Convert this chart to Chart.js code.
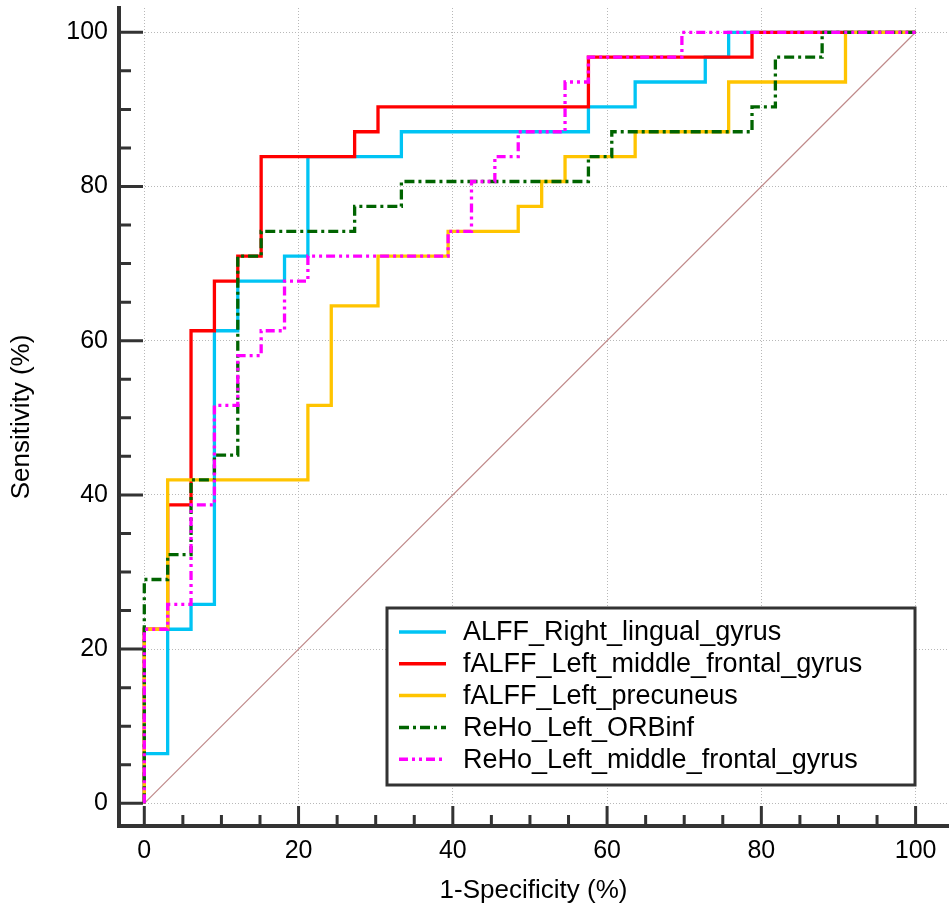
<!DOCTYPE html>
<html>
<head>
	<title>ROC curves</title>
	<style>
		body { margin: 0; background: #fff; }
	</style>
</head>
<body>
	<canvas id="roc" width="950" height="914"></canvas>

	<script src="https://cdn.jsdelivr.net/npm/chart.js@4.4.1/dist/chart.umd.min.js"></script>
	<script type="text/javascript">

		// legend labels, in drawing order (last one ends up on top)
		var seriesNames = [
			'ALFF_Right_lingual_gyrus',
			'fALFF_Left_middle_frontal_gyrus',
			'fALFF_Left_precuneus',
			'ReHo_Left_ORBinf',
			'ReHo_Left_middle_frontal_gyrus'
		];

		// ROC corners: 1-specificity (%) where each sensitivity (%) level ends
		var alffX  = [0, 3.03, 6.06, 9.09, 12.12, 18.18, 21.21, 33.33, 57.58, 63.64, 72.73, 75.76, 100];
		var alffY  = [0, 6.45, 22.58, 25.81, 61.29, 67.74, 70.97, 83.87, 87.10, 90.32, 93.55, 96.77, 100];

		var falffMfgX = [0, 3.03, 6.06, 9.09, 12.12, 15.15, 27.27, 30.30, 57.58, 78.79, 100];
		var falffMfgY = [0, 22.58, 38.71, 61.29, 67.74, 70.97, 83.87, 87.10, 90.32, 96.77, 100];

		var falffPcuX = [0, 3.03, 21.21, 24.24, 30.30, 39.39, 48.48, 51.52, 54.55, 63.64, 75.76, 90.91, 100];
		var falffPcuY = [0, 22.58, 41.94, 51.61, 64.52, 70.97, 74.19, 77.42, 80.65, 83.87, 87.10, 93.55, 100];

		var rehoOrbX = [0, 3.03, 6.06, 9.09, 12.12, 15.15, 27.27, 33.33, 57.58, 60.61, 78.79, 81.82, 87.88, 100];
		var rehoOrbY = [0, 29.03, 32.26, 41.94, 45.16, 70.97, 74.19, 77.42, 80.65, 83.87, 87.10, 90.32, 96.77, 100];

		var rehoMfgX = [0, 3.03, 6.06, 9.09, 12.12, 15.15, 18.18, 21.21, 39.39, 42.42, 45.45, 48.48, 54.55, 57.58, 69.70, 100];
		var rehoMfgY = [0, 22.58, 25.81, 38.71, 51.61, 58.06, 61.29, 67.74, 70.97, 74.19, 80.65, 83.87, 87.10, 93.55, 96.77, 100];

		var chanceX = [0, 100];
		var chanceY = [0, 100];

		var tickValues = [0, 20, 40, 60, 80, 100];
		var minorStep = 5;

		var FONT = '"Liberation Sans", Arial, sans-serif';

		var lineStyles = [
			{ color: '#00c4f4', dash: [] },
			{ color: '#ff0000', dash: [] },
			{ color: '#ffc400', dash: [] },
			{ color: '#006400', dash: [10, 4, 3, 4] },
			{ color: '#ff00ff', dash: [9, 4, 3, 4, 3, 4] }
		];

		function toPoints(xs, ys) {
			return xs.map(function (x, i) { return { x: x, y: ys[i] }; });
		}

		function makeDatasets() {
			var curves = [
				[alffX, alffY],
				[falffMfgX, falffMfgY],
				[falffPcuX, falffPcuY],
				[rehoOrbX, rehoOrbY],
				[rehoMfgX, rehoMfgY]
			];
			var sets = curves.map(function (c, i) {
				return {
					label: seriesNames[i],
					data: toPoints(c[0], c[1]),
					borderColor: lineStyles[i].color,
					borderDash: lineStyles[i].dash,
					borderWidth: 3.3,
					stepped: 'after',
					pointRadius: 0,
					fill: false,
					order: curves.length - i
				};
			});
			// reference diagonal, underneath everything
			sets.push({
				label: 'chance',
				data: toPoints(chanceX, chanceY),
				borderColor: '#c08a8a',
				borderWidth: 1.2,
				pointRadius: 0,
				fill: false,
				order: 10
			});
			return sets;
		}

		// inward tick marks + boxed legend inside the plot
		var rocDecor = {
			id: 'rocDecor',
			afterDraw: function (chart) {
				var ctx = chart.ctx, a = chart.chartArea;
				var xs = chart.scales.x, ys = chart.scales.y;

				ctx.save();
				ctx.strokeStyle = '#333';
				ctx.lineWidth = 3;
				for (var v = 0; v <= 100; v += minorStep) {
					var major = tickValues.indexOf(v) >= 0;
					var px = xs.getPixelForValue(v), py = ys.getPixelForValue(v);
					ctx.beginPath();
					ctx.moveTo(px, a.bottom);
					ctx.lineTo(px, a.bottom - (major ? 20 : 11));
					ctx.moveTo(a.left, py);
					ctx.lineTo(a.left + (major ? 24 : 12), py);
					ctx.stroke();
				}

				var w = 528, h = 177;
				var right = a.right - 33, bottom = a.bottom - 41;
				var left = right - w, top = bottom - h;
				ctx.fillStyle = '#fff';
				ctx.fillRect(left, top, w, h);
				ctx.lineWidth = 3;
				ctx.strokeStyle = '#333';
				ctx.strokeRect(left, top, w, h);

				ctx.font = '27px ' + FONT;
				ctx.textBaseline = 'middle';
				ctx.textAlign = 'left';
				for (var i = 0; i < seriesNames.length; i++) {
					var y = top + 24 + i * 31.8;
					ctx.beginPath();
					ctx.setLineDash(lineStyles[i].dash);
					ctx.strokeStyle = lineStyles[i].color;
					ctx.lineWidth = 3.5;
					ctx.moveTo(left + 12, y);
					ctx.lineTo(left + 59, y);
					ctx.stroke();
					ctx.setLineDash([]);
					ctx.fillStyle = '#000';
					ctx.fillText(seriesNames[i], left + 76, y + 1);
				}
				ctx.restore();
			}
		};

		function setTicks(axis) {
			axis.ticks = tickValues.map(function (v) { return { value: v }; });
		}

		var gridOpts = { color: '#b8b8b8', lineWidth: 1, drawTicks: false };
		var borderOpts = { display: true, color: '#333', width: 4, dash: [1, 2] };

		new Chart('roc', {
			type: 'line',
			data: { datasets: makeDatasets() },
			plugins: [rocDecor],
			options: {
				responsive: false,
				animation: false,
				layout: { padding: { top: 8, right: 2 } },
				plugins: { legend: { display: false }, tooltip: { enabled: false } },
				scales: {
					x: {
						type: 'linear',
						min: -3.28,
						max: 104.2,
						afterBuildTicks: setTicks,
						afterFit: function (s) { s.height = 88; s.paddingLeft = 0; s.paddingRight = 0; },
						grid: gridOpts,
						border: borderOpts,
						ticks: { padding: 10, color: '#000', font: { family: FONT, size: 25 }, maxRotation: 0, autoSkip: false },
						title: { display: true, text: '1-Specificity (%)', color: '#000', font: { family: FONT, size: 26 }, padding: { top: 0, bottom: 8 } }
					},
					y: {
						type: 'linear',
						min: -2.94,
						max: 103.15,
						afterBuildTicks: setTicks,
						afterFit: function (s) { s.width = 119; s.paddingTop = 0; s.paddingBottom = 0; },
						grid: gridOpts,
						border: borderOpts,
						ticks: { padding: 11, color: '#000', font: { family: FONT, size: 25 }, autoSkip: false },
						title: { display: true, text: 'Sensitivity (%)', color: '#000', font: { family: FONT, size: 26 }, padding: { top: 6, bottom: 6 } }
					}
				}
			}
		});

	</script>
</body>
</html>
